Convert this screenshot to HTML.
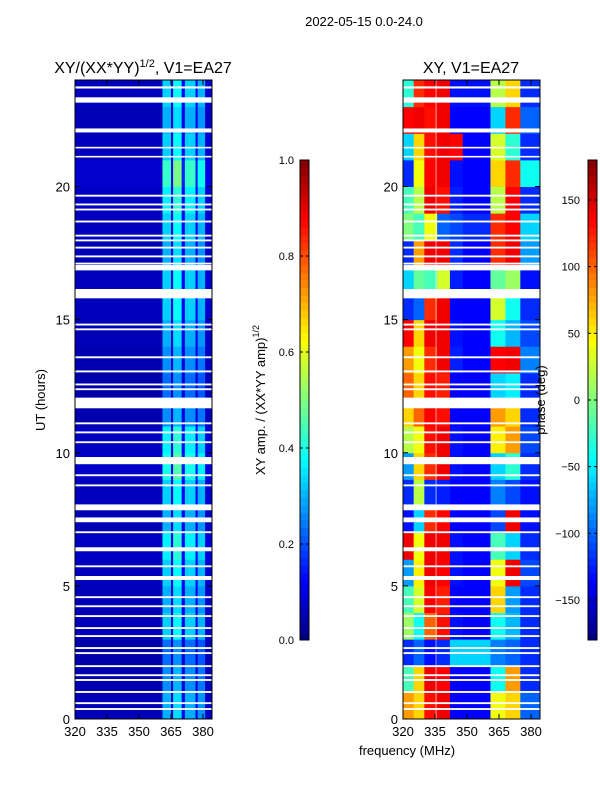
<!DOCTYPE html>
<html><head><meta charset="utf-8"><style>
html,body{margin:0;padding:0;background:#fff;}
svg{display:block;font-family:"Liberation Sans",sans-serif;}
</style></head><body>
<svg id="fig" width="600" height="800" viewBox="0 0 600 800"></svg>
<script>
// ---- data ----
const hours = [0,1,2,3,4,5,6,7,8,9,10,11,12,13,14,15,16,17,18,19,20,21,22,23];
const phaseFreqEdges = [320,325,330,336,342,348,361,368,375,384.2];
const phaseRows = [
 [80,60,130,140,-135,-135,40,60,-100],
 [-20,60,140,135,-135,-135,-40,80,-120],
 [-120,-100,-130,-120,-60,-60,-90,-100,-120],
 [10,-40,100,130,-130,-135,-40,-70,-120],
 [-20,30,135,125,-135,-135,60,-80,-120],
 [-80,50,140,135,-130,-135,40,140,-110],
 [140,40,140,140,-130,-135,-20,-60,-120],
 [-130,-60,120,135,-135,-135,-110,140,-130],
 [-120,20,-120,-125,-135,-135,-90,-110,-130],
 [-80,60,120,140,-130,-135,-60,-30,-120],
 [20,40,130,140,-130,-135,50,80,-110],
 [60,100,135,130,-135,-135,80,60,-120],
 [100,60,130,125,-135,-135,-60,-50,-120],
 [80,40,120,140,-125,-135,135,140,-90],
 [135,60,140,140,-130,-135,-40,-70,-110],
 [-120,-100,120,140,-135,-135,30,-40,-120],
 [-60,-10,-20,30,-125,-135,-10,10,-130],
 [-120,80,140,140,-120,-135,120,140,-80],
 [0,-20,40,-100,-110,-120,120,135,-60],
 [-20,20,140,130,-125,-135,20,135,-120],
 [-120,40,135,140,-130,-135,60,120,-40],
 [-60,60,130,140,135,-135,30,-30,-120],
 [135,140,130,140,-135,-135,-60,120,-100],
 [-30,120,135,140,-130,-130,20,60,-120]
];
const ampFreqEdges = [320,361,365,366,370,371.5,376.5,377.5,381,384.2];
const ampCols = [0.06,0.33,0.1,0.38,0.12,0.33,0.12,0.3,0.08];
const ampRowScale = [0.9,0.8,0.7,1.0,0.9,1.0,1.1,0.9,1.0,1.2,1.1,0.8,0.7,0.8,0.9,1.0,1.0,0.9,1.0,1.1,1.3,1.0,0.9,1.0];
const gapHours = [23.68,23.15,22.03,21.43,21.09,19.62,19.29,19.1,18.65,18.12,17.94,17.67,17.34,17.07,16.85,15.8,14.78,14.6,13.55,13.02,12.53,12.35,11.67,11.07,10.73,10.36,9.57,9.12,8.74,7.84,7.39,6.98,6.3,5.7,5.22,4.54,4.2,3.83,3.38,3.08,2.63,2.44,1.95,1.61,1.43,0.98,0.56,0.34];
const gapDur = [0.08,0.2,0.15,0.06,0.06,0.07,0.07,0.07,0.07,0.07,0.07,0.07,0.07,0.07,0.2,0.35,0.07,0.07,0.07,0.07,0.07,0.07,0.4,0.07,0.07,0.07,0.27,0.07,0.07,0.22,0.18,0.07,0.15,0.07,0.15,0.07,0.07,0.07,0.07,0.07,0.07,0.07,0.07,0.07,0.07,0.07,0.07,0.07];
const xTicks = [320,335,350,365,380];
const yTicks = [0,5,10,15,20];
const ampTicks = [0.0,0.2,0.4,0.6,0.8,1.0];
const phaseTicks = [-150,-100,-50,0,50,100,150];

// ---- helpers ----
const NS = "http://www.w3.org/2000/svg";
const svg = document.getElementById('fig');
function mk(tag, attrs, parent){const e=document.createElementNS(NS,tag);for(const k in attrs)e.setAttribute(k,attrs[k]);(parent||svg).appendChild(e);return e;}
function jet(v){v=Math.max(0,Math.min(1,v));
 const r=Math.max(0,Math.min(1,1.5-Math.abs(4*v-3))),g=Math.max(0,Math.min(1,1.5-Math.abs(4*v-2))),b=Math.max(0,Math.min(1,1.5-Math.abs(4*v-1)));
 return `rgb(${Math.round(r*255)},${Math.round(g*255)},${Math.round(b*255)})`;}
const Y0=719, Y1=80;
const yScale = h => Y0 - (h/24)*(Y0-Y1);
function xScaleFor(x0){return f => x0 + (f-320)*2.1333;}
const panels=[{x0:75,x1:212,name:'amp'},{x0:403,x1:540,name:'phase'}];

function drawPanel(p){
 const g=mk('g',{});
 
 
 const xs=xScaleFor(p.x0);
 hours.forEach((h,i)=>{
  const edges = p.name==='amp'?ampFreqEdges:phaseFreqEdges;
  for(let j=0;j<edges.length-1;j++){
   const v = p.name==='amp' ? ampCols[j]*ampRowScale[i] : (phaseRows[i][j]+180)/360;
   const x=xs(edges[j]), w=xs(edges[j+1])-x+0.5;
   const c=mk('rect',{x:x,y:yScale(h+1),width:w,height:yScale(h)-yScale(h+1)+0.5,fill:jet(v)},g);
   
   
  }
 });
 if(p.name==='phase'){
  const l=mk('line',{x1:xs(335.5),x2:xs(335.5),y1:Y1,y2:Y0,stroke:'#fff','stroke-opacity':0.6,'stroke-width':1},g);
  
  
 }
 gapHours.forEach((h,i)=>{
  const r=mk('rect',{x:p.x0,y:yScale(h+gapDur[i]),width:p.x1-p.x0,height:yScale(h)-yScale(h+gapDur[i]),fill:'#fff'},g);
  
  
 });
 const fr=mk('rect',{x:p.x0,y:Y1,width:p.x1-p.x0,height:Y0-Y1,fill:'none',stroke:'#000','stroke-width':1});
 
 
 xTicks.forEach(t=>{const x=xs(t);
  mk('line',{x1:x,x2:x,y1:Y0,y2:Y0-5,stroke:'#000'});mk('line',{x1:x,x2:x,y1:Y1,y2:Y1+5,stroke:'#000'});
  const tx=mk('text',{x:x,y:Y0+17,'font-size':13,'text-anchor':'middle'});tx.textContent=t;
  
  });
 yTicks.forEach(t=>{const y=yScale(t);
  mk('line',{x1:p.x0,x2:p.x0+5,y1:y,y2:y,stroke:'#000'});mk('line',{x1:p.x1,x2:p.x1-5,y1:y,y2:y,stroke:'#000'});
  const tx=mk('text',{x:p.x0-5,y:y+5,'font-size':13,'text-anchor':'end'});tx.textContent=t;
  
  });
}
panels.forEach(drawPanel);

function colorbar(x,ticks,lo,hi,name,fmt){
 const g=mk('g',{});
 
 
 const top=160,bot=640,n=64;
 for(let i=0;i<n;i++){mk('rect',{x:x,y:bot-(i+1)*(bot-top)/n,width:9,height:(bot-top)/n+0.5,fill:jet((i+0.5)/n)},g);}
 mk('rect',{x:x,y:top,width:9,height:bot-top,fill:'none',stroke:'#000'},g);
 ticks.forEach(t=>{const y=bot-(t-lo)/(hi-lo)*(bot-top);
  mk('line',{x1:x,x2:x+3,y1:y,y2:y,stroke:'#000'},g);mk('line',{x1:x+9,x2:x+6,y1:y,y2:y,stroke:'#000'},g);
  const tx=mk('text',{x:x+(name==='amp-colorbar'?-6:-8),y:y+4,'font-size':11,'text-anchor':'end'},g);tx.textContent=fmt(t);
  
  });
}
colorbar(300,ampTicks,0,1,'amp-colorbar',t=>t.toFixed(1));
colorbar(588,phaseTicks,-180,180,'phase-colorbar',t=>t<0?'\u2212'+(-t):String(t));

function txt(s,attrs,name){const t=mk('text',attrs);t.innerHTML=s;return t;}
txt('2022-05-15 0.0-24.0',{x:364,y:26,'font-size':13,'text-anchor':'middle'},'figure-title');
txt('XY/(XX*YY)<tspan font-size="11" dy="-6">1/2</tspan><tspan dy="6">, V1=EA27</tspan>',{x:143,y:73,'font-size':16,'text-anchor':'middle'},'left-panel-title');
txt('XY, V1=EA27',{x:471,y:73,'font-size':16,'text-anchor':'middle'},'right-panel-title');
txt('UT (hours)',{x:45,y:400,'font-size':13,'text-anchor':'middle',transform:'rotate(-90 45 400)'},'y-axis-title');
txt('frequency (MHz)',{x:407,y:755,'font-size':13,'text-anchor':'middle'},'x-axis-title');
txt('XY amp. / (XX*YY amp)<tspan font-size="9" dy="-6">1/2</tspan>',{x:265,y:400,'font-size':13,'text-anchor':'middle',transform:'rotate(-90 265 400)'},'amp-colorbar-label');
txt('phase (deg)',{x:545,y:400,'font-size':13,'text-anchor':'middle',transform:'rotate(-90 545 400)'},'phase-colorbar-label');
</script>
</body></html>
